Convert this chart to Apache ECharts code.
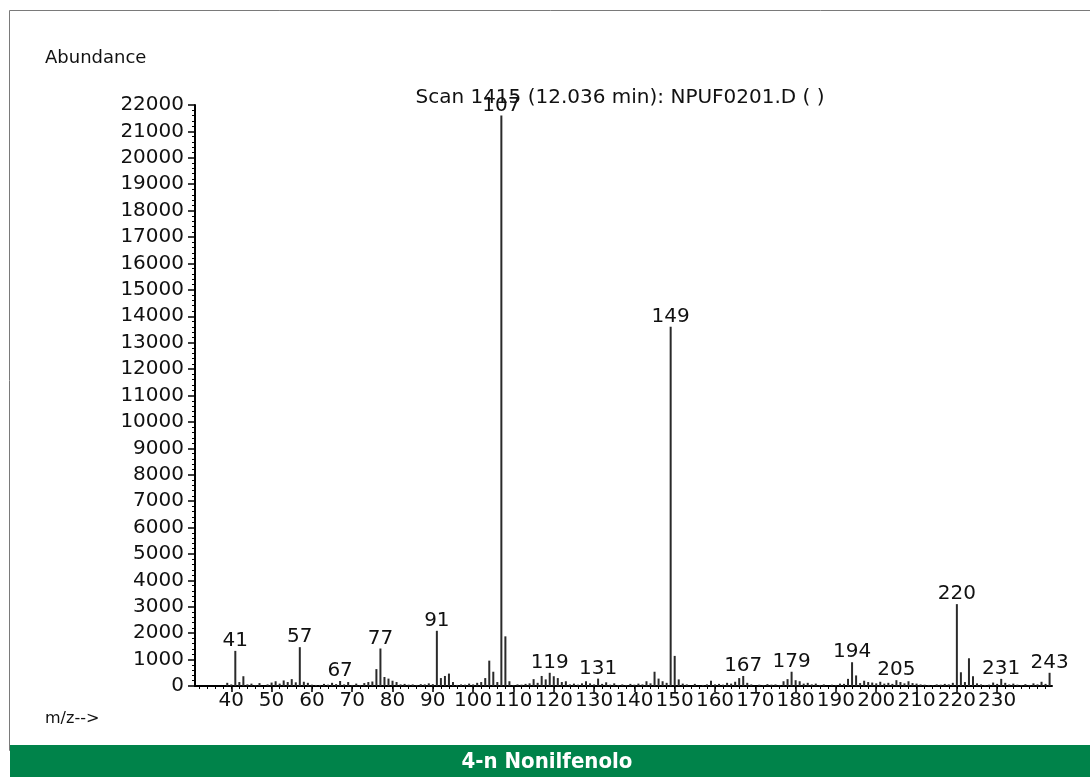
<!DOCTYPE html>
<html>
<head>
<meta charset="utf-8">
<script src="https://cdn.jsdelivr.net/npm/echarts@6/dist/echarts.min.js"></script>
<style>
html,body{margin:0;padding:0;background:#fff;}
#chart{width:1090px;height:777px;}
</style>
</head>
<body>
<div id="chart"></div>
<script>
// m/z values and abundances
const mzValues = [39,40,41,42,43,44,45,46,47,49,50,51,52,53,54,55,56,57,58,59,60,61,62,63,64,65,66,67,68,69,70,71,72,73,74,75,76,77,78,79,80,81,82,83,84,85,86,87,88,89,90,91,92,93,94,95,96,97,98,99,100,101,102,103,104,105,106,107,108,109,110,111,112,113,114,115,116,117,118,119,120,121,122,123,124,125,126,127,128,129,130,131,132,133,134,135,136,137,138,139,140,141,142,143,144,145,146,147,148,149,150,151,152,153,155,157,158,159,160,161,162,163,164,165,166,167,168,169,171,172,173,174,175,176,177,178,179,180,181,182,183,184,185,186,187,189,190,191,192,193,194,195,196,197,198,199,200,201,202,203,204,205,206,207,208,209,210,211,212,213,214,215,216,217,218,219,220,221,222,223,224,225,226,227,228,229,230,231,232,233,234,235,236,237,238,239,240,241,242,243];
const abundance = [120,60,1330,150,370,60,90,40,110,60,130,180,90,210,150,260,140,1470,160,120,50,40,40,80,50,120,70,190,60,150,40,90,40,110,150,170,640,1420,340,280,200,150,60,80,50,60,40,70,60,100,70,2090,300,380,470,150,40,60,50,90,60,120,150,300,960,540,150,21600,1880,180,40,60,50,80,100,260,120,380,250,500,370,300,150,180,60,90,50,100,180,100,60,280,80,140,50,100,40,60,40,80,50,90,60,180,100,540,280,180,120,13600,1140,250,90,60,80,40,60,200,60,80,50,120,90,160,300,380,120,60,50,40,70,50,60,40,180,260,540,220,180,90,120,60,90,40,60,50,40,90,80,270,900,400,110,200,150,130,100,160,90,120,80,220,150,100,180,110,90,60,50,40,30,60,50,80,60,120,3100,520,150,1050,370,100,60,40,50,130,80,270,120,60,90,50,40,70,40,100,60,160,80,500];
const labeledPeaks = [41,57,67,77,91,107,119,131,149,167,179,194,205,220,231,243];
const xTickLabels = [40,50,60,70,80,90,100,110,120,130,140,150,160,170,180,190,200,210,220,230];
const xMinorTicks = [];
for (let v = 32; v <= 242; v += 2) xMinorTicks.push(v);

const titleText = 'Scan 1415 (12.036 min): NPUF0201.D ( )';
const yAxisName = 'Abundance';
const xAxisName = 'm/z-->';
const bannerText = '4-n Nonilfenolo';

const FONT = 'DejaVu Sans';
const FS = 18;
const NFS = 20;

const seriesData = mzValues.map((mz, i) => {
  const item = { value: [mz, abundance[i]] };
  if (labeledPeaks.includes(mz)) {
    item.label = { show: true };
  }
  return item;
});

const chart = echarts.init(document.getElementById('chart'), null, { renderer: 'canvas' });
chart.setOption({
  animation: false,
  backgroundColor: '#fff',
  grid: { left: 195, right: 38, top: 105, bottom: 91, containLabel: false, outerBoundsMode: 'none' },
  xAxis: [{
    type: 'value',
    min: 31, max: 243.6,
    splitLine: { show: false },
    axisLine: { show: true, onZero: false, lineStyle: { color: '#000', width: 2 } },
    axisTick: { show: true, customValues: xTickLabels, length: 6, lineStyle: { color: '#000', width: 1.5 } },
    axisLabel: { show: true, customValues: xTickLabels, margin: 5, color: '#111', fontFamily: FONT, fontSize: NFS, hideOverlap: false }
  }, {
    type: 'value',
    min: 31, max: 243.6,
    position: 'bottom',
    splitLine: { show: false },
    axisLine: { show: false },
    axisTick: { show: true, customValues: xMinorTicks, length: 3, lineStyle: { color: '#000', width: 1 } },
    axisLabel: { show: false }
  }],
  yAxis: {
    type: 'value',
    min: 0, max: 22000, interval: 1000,
    splitLine: { show: false },
    axisLine: { show: true, lineStyle: { color: '#000', width: 2 } },
    axisTick: { show: true, length: 7, lineStyle: { color: '#000', width: 1.5 } },
    minorTick: { show: true, splitNumber: 5, length: 3, lineStyle: { color: '#000', width: 1 } },
    axisLabel: { margin: 11, color: '#111', fontFamily: FONT, fontSize: NFS, formatter: v => String(v) }
  },
  series: [{
    type: 'bar',
    xAxisIndex: 0,
    barWidth: 2,
    itemStyle: { color: '#2a2a2a' },
    label: {
      show: false,
      position: 'top',
      distance: 0,
      color: '#111',
      fontFamily: FONT,
      fontSize: NFS,
      formatter: p => String(p.value[0])
    },
    data: seriesData
  }],
  graphic: [
    { type: 'rect', silent: true, shape: { x: 9.5, y: 10.5, width: 1090, height: 740 }, style: { fill: 'none', stroke: '#7a7a7a', lineWidth: 1 } },
    { type: 'text', x: 45, y: 58, style: { text: yAxisName, fontFamily: FONT, fontSize: FS, fill: '#111', verticalAlign: 'middle' } },
    { type: 'text', x: 620, y: 98, style: { text: titleText, fontFamily: FONT, fontSize: NFS, fill: '#111', align: 'center', verticalAlign: 'middle' } },
    { type: 'text', x: 45, y: 719, style: { text: xAxisName, fontFamily: FONT, fontSize: FS - 2, fill: '#111', verticalAlign: 'middle' } },
    { type: 'rect', silent: true, shape: { x: 10, y: 745, width: 1080, height: 32 }, style: { fill: '#00834a' } },
    { type: 'text', x: 547, y: 762, style: { text: bannerText, fontFamily: 'Liberation Sans Narrow, DejaVu Sans Condensed, sans-serif', fontWeight: 'bold', fontSize: 22, fill: '#fff', align: 'center', verticalAlign: 'middle' } }
  ]
});
</script>
</body>
</html>
